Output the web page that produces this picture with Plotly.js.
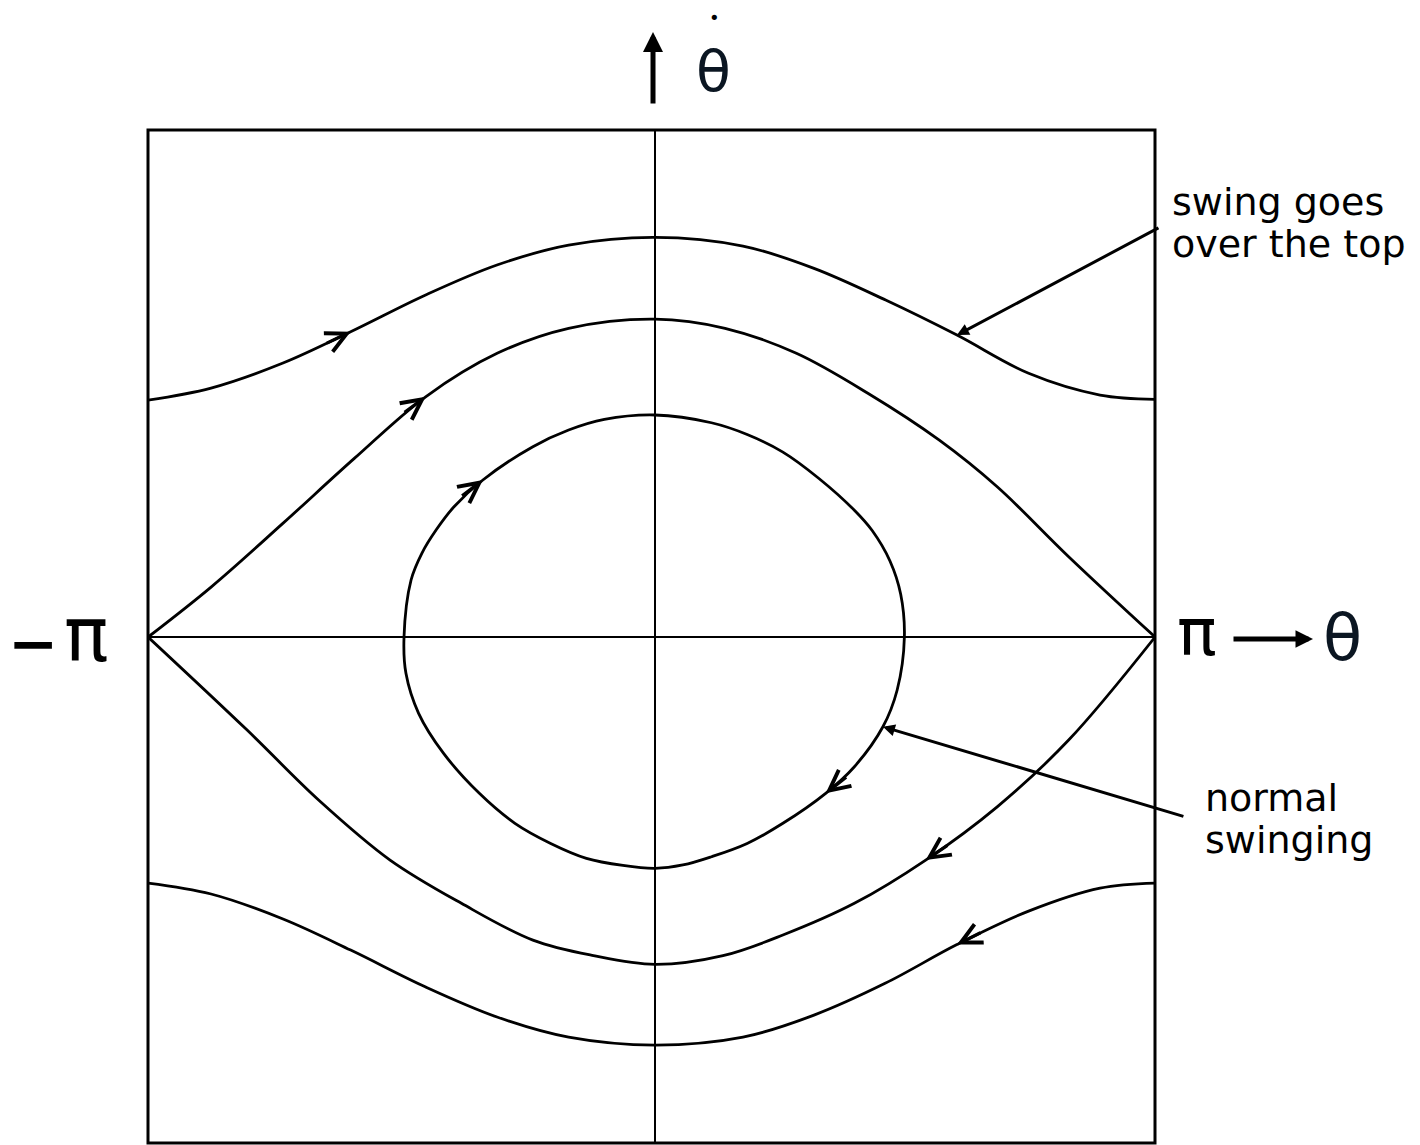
<!DOCTYPE html>
<html>
<head>
<meta charset="utf-8">
<script src="https://cdn.plot.ly/plotly-3.0.1.min.js"></script>
<style>
  html, body { margin: 0; padding: 0; background: #fff; }
  #phase { width: 1420px; height: 1145px; }
</style>
</head>
<body>
<div id="phase"></div>
<script>
// Phase portrait of a pendulum: angle θ (rad) on x, angular velocity θ̇ on y.

// Rotating motion above the separatrix ("swing goes over the top"), left to right
const outerUpperTheta = [-3.163, -2.770, -2.321, -1.899, -1.431, -0.986, -0.539, 0.000, 0.549, 0.992, 1.439, 1.884, 2.331, 2.777, 3.120];
const outerUpperRate  = [1.495, 1.571, 1.729, 1.926, 2.158, 2.347, 2.473, 2.522, 2.467, 2.326, 2.126, 1.905, 1.664, 1.527, 1.500];

// Upper branch of the separatrix, left to right
const separatrixUpperTheta = [-3.163, -2.768, -2.322, -1.876, -1.431, -0.985, -0.539, 0.000, 0.437, 0.882, 1.328, 1.774, 2.135, 2.581, 3.120];
const separatrixUpperRate  = [0, 0.317, 0.717, 1.127, 1.516, 1.790, 1.948, 2.006, 1.948, 1.790, 1.538, 1.242, 0.948, 0.507, 0];

// Closed orbit ("normal swinging"), traced clockwise from the left turning point
const innerTheta = [-1.566, -1.522, -1.454, -1.366, -1.254, -1.074, -0.762, -0.539, -0.316, 0.000, 0.352, 0.575, 0.798, 1.021, 1.244, 1.355, 1.466, 1.533, 1.556, 1.511, 1.422, 1.244, 1.065, 0.798, 0.575, 0.352, 0.174, 0.000, -0.200, -0.428, -0.651, -0.874, -1.096, -1.319, -1.475, -1.554, -1.566];
const innerRate  = [0, 0.360, 0.530, 0.675, 0.822, 0.991, 1.201, 1.306, 1.373, 1.401, 1.352, 1.278, 1.167, 1.002, 0.800, 0.672, 0.480, 0.270, 0, -0.334, -0.566, -0.818, -0.986, -1.175, -1.302, -1.386, -1.438, -1.459, -1.441, -1.396, -1.302, -1.175, -0.986, -0.734, -0.481, -0.229, 0];

// Lower branch of the separatrix, right to left (direction of motion)
const separatrixLowerTheta = [3.120, 2.581, 2.135, 1.689, 1.244, 0.798, 0.424, 0.000, -0.384, -0.762, -1.208, -1.653, -2.099, -2.545, -3.163];
const separatrixLowerRate  = [0, -0.650, -1.071, -1.407, -1.680, -1.880, -2.010, -2.065, -2.010, -1.912, -1.680, -1.407, -1.028, -0.587, 0];

// Rotating motion below the separatrix, right to left
const outerLowerTheta = [3.120, 2.777, 2.331, 1.884, 1.439, 0.992, 0.549, 0.000, -0.539, -0.986, -1.431, -1.899, -2.321, -2.770, -3.163];
const outerLowerRate  = [-1.552, -1.584, -1.729, -1.940, -2.183, -2.385, -2.524, -2.574, -2.524, -2.397, -2.208, -1.975, -1.779, -1.621, -1.552];

// Axis symbols and callout texts
const axisSymbols = { minusSign: '\u2212', pi: '\u03c0', theta: '\u03b8', dot: '\u2022' };
const calloutOverTop = ['swing goes', 'over the top'];
const calloutNormal = ['normal', 'swinging'];

const INK = '#000';
const TEXT_FONT = 'DejaVu Sans';

// Plot frame: pixel extent and data ranges
const FRAME = { left: 148, right: 265, top: 130, bottom: 2, width: 1420, height: 1145 };
const THETA_RANGE = [-3.1634, 3.1197];
const RATE_RANGE = [-3.192, 3.199];
const PX_PER_THETA = (FRAME.width - FRAME.left - FRAME.right) / (THETA_RANGE[1] - THETA_RANGE[0]);
const PX_PER_RATE = (FRAME.height - FRAME.top - FRAME.bottom) / (RATE_RANGE[1] - RATE_RANGE[0]);

function curve(thetas, rates) {
  return {
    type: 'scatter', mode: 'lines', x: thetas, y: rates,
    line: { color: INK, width: 2.8, shape: 'spline', smoothing: 1 },
    hoverinfo: 'skip'
  };
}

// Chevron showing the direction of motion at point i of a trajectory,
// aligned with the local tangent (from neighbouring points).
function flowArrow(thetas, rates, i) {
  const a = Math.max(i - 1, 0), b = Math.min(i + 1, thetas.length - 1);
  const dx = (thetas[b] - thetas[a]) * PX_PER_THETA;
  const dy = -(rates[b] - rates[a]) * PX_PER_RATE;
  const len = Math.hypot(dx, dy) || 1;
  const tail = 28;
  return {
    xref: 'x', yref: 'y',
    x: thetas[i], y: rates[i], ax: -dx / len * tail, ay: -dy / len * tail,
    text: '', showarrow: true, arrowhead: 5, arrowsize: 1.25, arrowwidth: 3.2,
    arrowcolor: INK, standoff: 0
  };
}

function pointer(thetas, rates, i, dx, dy) {
  return {
    xref: 'x', yref: 'y', x: thetas[i], y: rates[i], ax: dx, ay: dy,
    text: '', showarrow: true, arrowhead: 2, arrowsize: 0.8, arrowwidth: 3,
    arrowcolor: INK, standoff: 0
  };
}

function label(text, x, y, size, anchor, opts) {
  return Object.assign({
    xref: 'paper', yref: 'paper', x: x, y: y, xanchor: anchor, yanchor: 'middle',
    text: text, showarrow: false,
    font: { family: TEXT_FONT, size: size, color: INK }
  }, opts || {});
}

const traces = [
  curve(outerUpperTheta, outerUpperRate),
  curve(separatrixUpperTheta, separatrixUpperRate),
  curve(innerTheta, innerRate),
  curve(separatrixLowerTheta, separatrixLowerRate),
  curve(outerLowerTheta, outerLowerRate)
];

const annotations = [
  flowArrow(outerUpperTheta, outerUpperRate, 3),
  flowArrow(separatrixUpperTheta, separatrixUpperRate, 4),
  flowArrow(innerTheta, innerRate, 5),
  flowArrow(innerTheta, innerRate, 22),
  flowArrow(separatrixLowerTheta, separatrixLowerRate, 3),
  flowArrow(outerLowerTheta, outerLowerRate, 3),

  pointer(outerUpperTheta, outerUpperRate, 11, 203, -108),
  pointer(innerTheta, innerRate, 20, 302, 90),

  label(calloutOverTop[0], 1.0149, 0.9289, 38, 'left'),
  label(calloutOverTop[1], 1.0149, 0.8875, 38, 'left'),
  label(calloutNormal[0], 1.0477, 0.3401, 38, 'left'),
  label(calloutNormal[1], 1.0477, 0.2996, 38, 'left'),

  // −π at the left edge
  label(axisSymbols.minusSign, -0.1142, 0.4936, 60, 'center', { font: { family: TEXT_FONT, size: 60, color: INK, weight: 'bold' } }),
  label(axisSymbols.pi, -0.0606, 0.5015, 74, 'center'),
  // π ⟶ θ at the right edge
  label(axisSymbols.pi, 1.0422, 0.5044, 66, 'center'),
  {
    xref: 'paper', yref: 'paper', x: 1.1569, y: 0.4975, ax: -81, ay: 0,
    text: '', showarrow: true, arrowhead: 2, arrowsize: 0.7, arrowwidth: 5,
    arrowcolor: INK, standoff: 0
  },
  label(axisSymbols.theta, 1.1862, 0.4985, 64, 'center', { font: { family: TEXT_FONT, size: 64, color: '#0b1622' } }),
  // ↑ θ̇ above the top
  {
    xref: 'paper', yref: 'paper', x: 0.5015, y: 1.0967, ax: 0, ay: 73,
    text: '', showarrow: true, arrowhead: 2, arrowsize: 0.8, arrowwidth: 5,
    arrowcolor: INK, standoff: 0
  },
  label(axisSymbols.theta, 0.5611, 1.0587, 57, 'center', { font: { family: TEXT_FONT, size: 57, color: '#0b1622' } }),
  label(axisSymbols.dot, 0.5621, 1.1106, 18, 'center')
];

const layout = {
  width: FRAME.width,
  height: FRAME.height,
  margin: { l: FRAME.left, r: FRAME.right, t: FRAME.top, b: FRAME.bottom, pad: 0 },
  paper_bgcolor: '#fff',
  plot_bgcolor: '#fff',
  showlegend: false,
  xaxis: {
    range: THETA_RANGE, showgrid: false, showticklabels: false, ticks: '',
    zeroline: true, zerolinecolor: INK, zerolinewidth: 2, showline: false, fixedrange: true
  },
  yaxis: {
    range: RATE_RANGE, showgrid: false, showticklabels: false, ticks: '',
    zeroline: true, zerolinecolor: INK, zerolinewidth: 2.5, showline: false, fixedrange: true
  },
  shapes: [{
    type: 'rect', xref: 'paper', yref: 'paper', x0: 0, x1: 1, y0: 0, y1: 1,
    line: { color: INK, width: 3 }, layer: 'above'
  }],
  annotations: annotations
};

Plotly.newPlot('phase', traces, layout, { displayModeBar: false, staticPlot: true });
</script>
</body>
</html>
